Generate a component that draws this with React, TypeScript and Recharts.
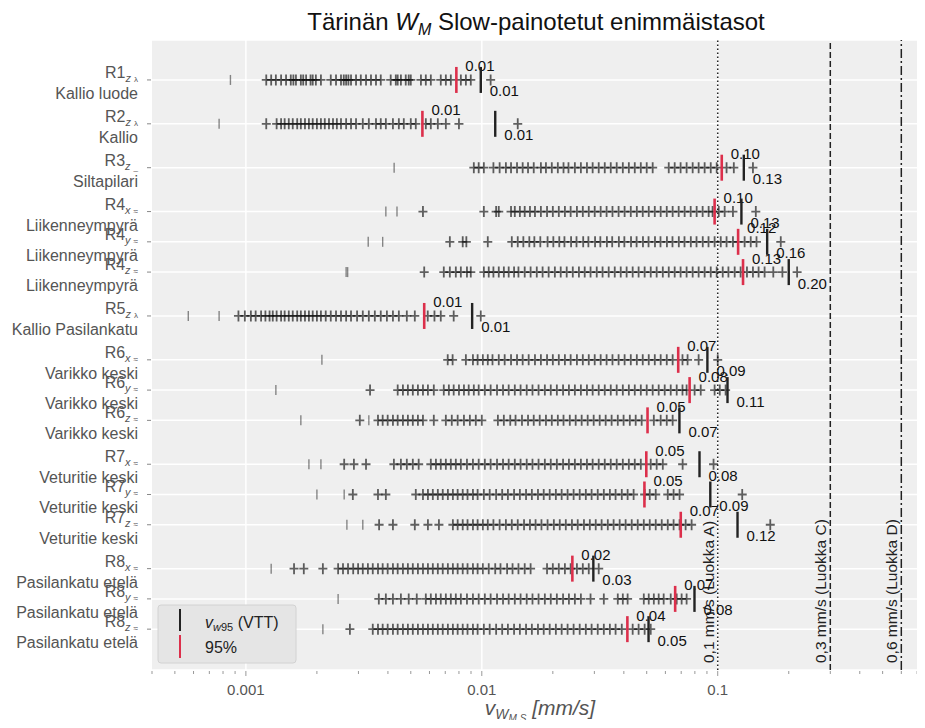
import React from "react";
import {
  ScatterChart,
  Scatter,
  XAxis,
  YAxis,
  CartesianGrid,
  ReferenceLine,
} from "recharts";

const FONT = '"Liberation Sans", Arial, Helvetica, sans-serif';
const RED = "#dc2f4b";

// rows, top to bottom
const rowIds = ["R1", "R2", "R3", "R4", "R4", "R4", "R5", "R6", "R6", "R6", "R7", "R7", "R7", "R8", "R8", "R8"];
const rowAxes = ["z", "z", "z", "x", "y", "z", "z", "x", "y", "z", "x", "y", "z", "x", "y", "z"];
const rowSigns = ["λ", "λ", "_", "≈", "≈", "≈", "λ", "≈", "≈", "≈", "≈", "≈", "≈", "≈", "≈", "≈"];
const rowPlaces = [
  "Kallio luode", "Kallio", "Siltapilari",
  "Liikenneympyrä", "Liikenneympyrä", "Liikenneympyrä",
  "Kallio Pasilankatu",
  "Varikko keski", "Varikko keski", "Varikko keski",
  "Veturitie keski", "Veturitie keski", "Veturitie keski",
  "Pasilankatu etelä", "Pasilankatu etelä", "Pasilankatu etelä",
];
const rowPos = [0, 1.45, 2.9, 4.35, 5.35, 6.35, 7.8, 9.25, 10.25, 11.25, 12.7, 13.7, 14.7, 16.15, 17.15, 18.15];

// 95 % percentile (red) and v_w95 VTT (black), mm/s
const p95 = [0.0078, 0.0056, 0.104, 0.097, 0.122, 0.128, 0.0057, 0.068, 0.076, 0.0504, 0.0498, 0.0489, 0.0697, 0.0242, 0.066, 0.0414];
const vw95 = [0.0099, 0.0114, 0.129, 0.126, 0.162, 0.2, 0.0091, 0.0904, 0.11, 0.0688, 0.0837, 0.093, 0.1213, 0.0297, 0.0797, 0.0509];

// lowest single readings (drawn as |)
const lowMarks = [
  [0.00086], [0.00077], [0.00425], [0.00392, 0.00437], [0.0033, 0.0038], [0.00266, 0.0027],
  [0.00057, 0.00077], [0.0021], [0.00134], [0.00171, 0.00332], [0.00185, 0.00208],
  [0.002, 0.00261], [0.00268, 0.00313], [0.00128], [0.00246], [0.00212],
];

// measured WM slow maxima per row
const r1z = [0.00122, 0.00128, 0.00134, 0.00141, 0.00148, 0.00155, 0.00159, 0.00163, 0.00171, 0.00175, 0.0018, 0.00188, 0.00192, 0.00198, 0.00208, 0.00229, 0.00241, 0.00253, 0.0026, 0.00266, 0.00272, 0.00279, 0.00293, 0.00307, 0.00323, 0.00339, 0.00356, 0.00373, 0.00411, 0.00432, 0.0044, 0.00454, 0.00476, 0.0049, 0.005, 0.00552, 0.00579, 0.00608, 0.0067, 0.00704, 0.00739, 0.00815, 0.00856, 0.00898, 0.0109];
const r2z = [0.00122, 0.00135, 0.00141, 0.00146, 0.00152, 0.00158, 0.00165, 0.00171, 0.00178, 0.00185, 0.00192, 0.002, 0.00208, 0.00216, 0.00225, 0.00234, 0.00243, 0.00253, 0.00266, 0.00279, 0.00293, 0.00313, 0.00332, 0.00356, 0.00373, 0.00392, 0.0042, 0.00445, 0.00467, 0.005, 0.00525, 0.00579, 0.00608, 0.00651, 0.00704, 0.008, 0.0142];
const r3z = [0.00925, 0.0097, 0.0102, 0.0112, 0.0119, 0.01265, 0.0133, 0.0141, 0.0149, 0.0157, 0.0166, 0.0178, 0.0187, 0.0198, 0.021, 0.0222, 0.0233, 0.0248, 0.0263, 0.0279, 0.0295, 0.0313, 0.0332, 0.0352, 0.0373, 0.0396, 0.042, 0.0445, 0.0472, 0.05, 0.053, 0.062, 0.0657, 0.0696, 0.0738, 0.0783, 0.083, 0.088, 0.0934, 0.099, 0.109, 0.117, 0.141];
const r4x = [0.00563, 0.0102, 0.0115, 0.0118, 0.0133, 0.0138, 0.0145, 0.0152, 0.016, 0.0168, 0.0178, 0.0189, 0.02, 0.0212, 0.0225, 0.0238, 0.0253, 0.0268, 0.0284, 0.0301, 0.0319, 0.0338, 0.0358, 0.038, 0.0403, 0.0428, 0.0454, 0.0481, 0.051, 0.0541, 0.0573, 0.0608, 0.0644, 0.0683, 0.0724, 0.0768, 0.0814, 0.0863, 0.0915, 0.0951, 0.101, 0.107, 0.116, 0.145];
const r4y = [0.00732, 0.0083, 0.0086, 0.0106, 0.0134, 0.0142, 0.015, 0.0159, 0.0167, 0.0177, 0.019, 0.0201, 0.0213, 0.0224, 0.0239, 0.0252, 0.0269, 0.0283, 0.0302, 0.0318, 0.0339, 0.0357, 0.0381, 0.0402, 0.0429, 0.0453, 0.0482, 0.0509, 0.0542, 0.0572, 0.0609, 0.0643, 0.0684, 0.0723, 0.0769, 0.0813, 0.0864, 0.0914, 0.097, 0.103, 0.109, 0.116, 0.122, 0.13, 0.138, 0.146, 0.185];
const r4z = [0.0057, 0.0069, 0.00732, 0.00776, 0.00815, 0.00865, 0.00898, 0.0102, 0.0107, 0.0112, 0.0118, 0.0124, 0.013, 0.0137, 0.0143, 0.0152, 0.0161, 0.0171, 0.0181, 0.0192, 0.0204, 0.0216, 0.0229, 0.0243, 0.0258, 0.0273, 0.0289, 0.0307, 0.0325, 0.0345, 0.0366, 0.0388, 0.0411, 0.0436, 0.0462, 0.049, 0.052, 0.0551, 0.0585, 0.062, 0.0657, 0.0696, 0.0738, 0.0783, 0.083, 0.088, 0.0934, 0.099, 0.105, 0.111, 0.118, 0.125, 0.133, 0.141, 0.149, 0.158, 0.172, 0.188, 0.217];
const r5z = [0.00093, 0.00099, 0.00105, 0.0011, 0.00116, 0.00121, 0.00126, 0.0013, 0.00135, 0.00141, 0.00146, 0.00152, 0.00158, 0.00165, 0.00171, 0.00178, 0.00185, 0.00192, 0.002, 0.00208, 0.00218, 0.00229, 0.00241, 0.00253, 0.00266, 0.00279, 0.00296, 0.00313, 0.00332, 0.00352, 0.00373, 0.00396, 0.0042, 0.00445, 0.00481, 0.0052, 0.0059, 0.0063, 0.0067, 0.0076, 0.0099];
const r6x = [0.00717, 0.00752, 0.00856, 0.00917, 0.0096, 0.0101, 0.0106, 0.0111, 0.0118, 0.0125, 0.0133, 0.0141, 0.0149, 0.0158, 0.0168, 0.0178, 0.0189, 0.02, 0.0212, 0.0225, 0.0238, 0.0253, 0.0268, 0.0284, 0.0301, 0.0319, 0.0338, 0.0358, 0.038, 0.0403, 0.0428, 0.0454, 0.0481, 0.051, 0.0541, 0.0573, 0.0608, 0.0644, 0.0709, 0.0745, 0.083, 0.1];
const r6y = [0.00336, 0.0044, 0.00463, 0.00486, 0.0051, 0.00536, 0.00563, 0.00591, 0.00626, 0.0069, 0.00725, 0.0076, 0.008, 0.0084, 0.0088, 0.00925, 0.0097, 0.0103, 0.0109, 0.0116, 0.0123, 0.013, 0.0138, 0.0146, 0.0155, 0.0164, 0.0174, 0.0185, 0.0196, 0.0208, 0.0221, 0.0234, 0.0248, 0.0263, 0.0279, 0.0295, 0.0313, 0.0332, 0.0352, 0.0373, 0.0396, 0.042, 0.0445, 0.0472, 0.05, 0.053, 0.0562, 0.0596, 0.0632, 0.067, 0.0709, 0.0738, 0.0798, 0.0847, 0.097, 0.102, 0.108];
const r6z = [0.00304, 0.00363, 0.0038, 0.00399, 0.0042, 0.0044, 0.00463, 0.00486, 0.0051, 0.00536, 0.00563, 0.00626, 0.00704, 0.00746, 0.0079, 0.0084, 0.0089, 0.00943, 0.01, 0.0117, 0.0124, 0.0132, 0.0139, 0.0148, 0.0157, 0.0166, 0.0176, 0.0187, 0.0198, 0.021, 0.0222, 0.0236, 0.025, 0.0265, 0.0281, 0.0298, 0.0316, 0.0335, 0.0355, 0.0377, 0.0399, 0.0424, 0.0449, 0.0476, 0.0536, 0.0573, 0.0608, 0.0644];
const r7x = [0.00261, 0.00287, 0.00323, 0.00424, 0.00454, 0.00481, 0.0051, 0.0054, 0.00608, 0.00639, 0.0067, 0.00704, 0.00739, 0.00776, 0.00815, 0.00865, 0.00917, 0.0097, 0.0103, 0.0109, 0.0116, 0.0123, 0.013, 0.0138, 0.0146, 0.0155, 0.0164, 0.0174, 0.0185, 0.0196, 0.0208, 0.0221, 0.0234, 0.0248, 0.0263, 0.0279, 0.0295, 0.0313, 0.0332, 0.0352, 0.0373, 0.0396, 0.042, 0.0445, 0.0472, 0.052, 0.0551, 0.0585, 0.071, 0.096];
const r7y = [0.00284, 0.00363, 0.00392, 0.00525, 0.00563, 0.00591, 0.0062, 0.00651, 0.00683, 0.00718, 0.00754, 0.0079, 0.0083, 0.0087, 0.00917, 0.0096, 0.0102, 0.0108, 0.0115, 0.0122, 0.0129, 0.0137, 0.0145, 0.0154, 0.0163, 0.0173, 0.0183, 0.0194, 0.0206, 0.0218, 0.0231, 0.0245, 0.026, 0.0276, 0.0292, 0.031, 0.0329, 0.0349, 0.0369, 0.0392, 0.0415, 0.044, 0.049, 0.0515, 0.0546, 0.0614, 0.065, 0.0689, 0.127];
const r7z = [0.00367, 0.0042, 0.0052, 0.00591, 0.00658, 0.00754, 0.0079, 0.0083, 0.0087, 0.00917, 0.0096, 0.0101, 0.0106, 0.0112, 0.0119, 0.01265, 0.0134, 0.0142, 0.0151, 0.016, 0.0169, 0.0179, 0.019, 0.0202, 0.0214, 0.0227, 0.0241, 0.0255, 0.0271, 0.0287, 0.0304, 0.0322, 0.0342, 0.0362, 0.0384, 0.0407, 0.0432, 0.0458, 0.0486, 0.0515, 0.0546, 0.0579, 0.0614, 0.065, 0.0689, 0.0731, 0.0775, 0.167];
const r8x = [0.0016, 0.00176, 0.00212, 0.00246, 0.00258, 0.00271, 0.00285, 0.00299, 0.00313, 0.00329, 0.00345, 0.00363, 0.0038, 0.00399, 0.0042, 0.0044, 0.00463, 0.00486, 0.0051, 0.00536, 0.00563, 0.00591, 0.0062, 0.00651, 0.00683, 0.00718, 0.00754, 0.0079, 0.0083, 0.0087, 0.00917, 0.0096, 0.0101, 0.0107, 0.0114, 0.012, 0.0128, 0.0135, 0.0143, 0.0152, 0.0161, 0.0189, 0.02, 0.0212, 0.0225, 0.0238, 0.0253, 0.0268, 0.0284, 0.0313];
const r8y = [0.00366, 0.00392, 0.0042, 0.00454, 0.0049, 0.0053, 0.00579, 0.00608, 0.00639, 0.0067, 0.00704, 0.00739, 0.00776, 0.00815, 0.00865, 0.00917, 0.0097, 0.0103, 0.0109, 0.0116, 0.0123, 0.013, 0.0138, 0.0146, 0.0155, 0.0164, 0.0174, 0.0185, 0.0196, 0.0208, 0.0221, 0.0234, 0.0248, 0.0263, 0.0289, 0.0329, 0.0377, 0.0396, 0.0415, 0.0486, 0.051, 0.0536, 0.0562, 0.059, 0.0632, 0.067, 0.0703, 0.0738];
const r8z = [0.00276, 0.00345, 0.00363, 0.0038, 0.00399, 0.0042, 0.0044, 0.00463, 0.00486, 0.0051, 0.00536, 0.00563, 0.00591, 0.0062, 0.00651, 0.00683, 0.00718, 0.00754, 0.0079, 0.0083, 0.0087, 0.00917, 0.0096, 0.0102, 0.0108, 0.0115, 0.0122, 0.0129, 0.0137, 0.0145, 0.0154, 0.0163, 0.0173, 0.0183, 0.0194, 0.0206, 0.0218, 0.0231, 0.0245, 0.026, 0.0276, 0.0292, 0.031, 0.0329, 0.0349, 0.0369, 0.0392, 0.0436, 0.0462, 0.049, 0.052];

const rowSamples = [r1z, r2z, r3z, r4x, r4y, r4z, r5z, r6x, r6y, r6z, r7x, r7y, r7z, r8x, r8y, r8z];

const majorTicks = [0.001, 0.01, 0.1];
const minorTicks = [
  0.0004, 0.0005, 0.0006, 0.0007, 0.0008, 0.0009,
  0.002, 0.003, 0.004, 0.005, 0.006, 0.007, 0.008, 0.009,
  0.02, 0.03, 0.04, 0.05, 0.06, 0.07, 0.08, 0.09,
  0.2, 0.3, 0.4, 0.5, 0.6, 0.7,
];
const limits = [
  { v: 0.1, text: "0,1 mm/s (Luokka A)", dash: "1.5 2.5" },
  { v: 0.3, text: "0,3 mm/s (Luokka C)", dash: "6 3" },
  { v: 0.6, text: "0,6 mm/s (Luokka D)", dash: "9 3 2 3" },
];

const plusData = rowSamples.flatMap((vals, i) => vals.map((v) => ({ x: v, y: rowPos[i] })));
const lowData = lowMarks.flatMap((vals, i) => vals.map((v) => ({ x: v, y: rowPos[i] })));
const p95Data = p95.map((v, i) => ({ x: v, y: rowPos[i] }));
const vwData = vw95.map((v, i) => ({ x: v, y: rowPos[i] }));
const allTicks = [...majorTicks, ...minorTicks].sort((a, b) => a - b);

function PlusMark({ cx, cy }: any) {
  return (
    <path
      d={`M${cx - 4.5},${cy}H${cx + 4.5}M${cx},${cy - 5.5}V${cy + 5.5}`}
      stroke="#000"
      strokeOpacity={0.62}
      strokeWidth={1.8}
      fill="none"
    />
  );
}

function LowMark({ cx, cy }: any) {
  return (
    <line x1={cx} x2={cx} y1={cy - 5} y2={cy + 5} stroke="#000" strokeOpacity={0.45} strokeWidth={1.4} />
  );
}

function P95Mark({ cx, cy, payload }: any) {
  return (
    <g>
      <line x1={cx} x2={cx} y1={cy - 13} y2={cy + 13} stroke={RED} strokeWidth={2.6} />
      <text x={cx + 9} y={cy - 8.5} fontSize={15} fill="#111" fontFamily={FONT}>
        {payload.x.toFixed(2)}
      </text>
    </g>
  );
}

function VwMark({ cx, cy, payload }: any) {
  return (
    <g>
      <line x1={cx} x2={cx} y1={cy - 13} y2={cy + 13} stroke="#222" strokeWidth={2.4} />
      <text x={cx + 9} y={cy + 16.5} fontSize={15} fill="#111" fontFamily={FONT}>
        {payload.x.toFixed(2)}
      </text>
    </g>
  );
}

function XTick({ x, y, payload }: any) {
  const major = majorTicks.includes(payload.value);
  return (
    <g>
      <line x1={x} x2={x} y1={y + 1} y2={y + (major ? 6 : 4)} stroke="#999" />
      {major && (
        <text x={x} y={y + 24.5} textAnchor="middle" fontSize={15} fill="#555" fontFamily={FONT}>
          {String(payload.value)}
        </text>
      )}
    </g>
  );
}

function RowTick({ x, y, payload }: any) {
  const i = rowPos.indexOf(payload.value);
  if (i < 0) return null;
  return (
    <g>
      <line x1={x - 5} x2={x - 1} y1={y} y2={y} stroke="#888" />
      <text x={x - 14} y={y - 2} textAnchor="end" fontSize={16} fill="#555" fontFamily={FONT}>
        {rowIds[i]}
        <tspan fontSize={11} fontStyle="italic" dy={4}>
          {rowAxes[i]}
        </tspan>
        <tspan fontSize={8} dx={3}>
          {rowSigns[i]}
        </tspan>
      </text>
      <text x={x - 14} y={y + 19} textAnchor="end" fontSize={16} fill="#555" fontFamily={FONT}>
        {rowPlaces[i]}
      </text>
    </g>
  );
}

function LimitLabel({ viewBox, text }: any) {
  if (!viewBox) return null;
  const x = viewBox.x - 4;
  const y = viewBox.y + viewBox.height - 7;
  return (
    <text x={x} y={y} transform={`rotate(-90 ${x} ${y})`} fontSize={15.5} fill="#222" fontFamily={FONT}>
      {text}
    </text>
  );
}

export default function App() {
  return (
    <div style={{ position: "relative", width: 925, height: 728, margin: -8, background: "#fff" }}>
      <ScatterChart width={925} height={728} margin={{ top: 40, right: 5, bottom: 0, left: 0 }}>
        <CartesianGrid fill="#efefef" stroke="#fff" strokeWidth={1.5} verticalValues={majorTicks} />
        <XAxis
          type="number"
          dataKey="x"
          scale="log"
          domain={[0.0004, 0.72]}
          allowDataOverflow
          ticks={allTicks}
          interval={0}
          height={58}
          axisLine={false}
          tickLine={false}
          tickSize={0}
          tickMargin={0}
          tick={(p: any) => <XTick {...p} />}
        />
        <YAxis
          type="number"
          dataKey="y"
          domain={[-1.32, 19.5]}
          reversed
          ticks={rowPos}
          interval={0}
          width={152}
          axisLine={false}
          tickLine={false}
          tickSize={0}
          tickMargin={0}
          tick={(p: any) => <RowTick {...p} />}
        />
        <Scatter data={plusData} shape={(p: any) => <PlusMark {...p} />} isAnimationActive={false} />
        <Scatter data={lowData} shape={(p: any) => <LowMark {...p} />} isAnimationActive={false} />
        {limits.map((l) => (
          <ReferenceLine
            key={l.v}
            x={l.v}
            stroke="#222"
            strokeWidth={1.5}
            strokeDasharray={l.dash}
            label={<LimitLabel text={l.text} />}
          />
        ))}
        <Scatter data={p95Data} shape={(p: any) => <P95Mark {...p} />} isAnimationActive={false} />
        <Scatter data={vwData} shape={(p: any) => <VwMark {...p} />} isAnimationActive={false} />
      </ScatterChart>
      <svg
        width={925}
        height={728}
        style={{ position: "absolute", left: 0, top: 0, pointerEvents: "none" }}
        fontFamily={FONT}
      >
        <text x={536} y={30} textAnchor="middle" fontSize={24} fill="#111">
          Tärinän <tspan fontStyle="italic">W</tspan>
          <tspan fontStyle="italic" fontSize={16} dy={5}>M</tspan>
          <tspan dy={-5}> Slow-painotetut enimmäistasot</tspan>
        </text>
        <text x={540} y={715} textAnchor="middle" fontSize={21} fill="#555" fontStyle="italic">
          v<tspan fontSize={14} dy={4}>W</tspan>
          <tspan fontSize={10} dy={3}>M,S</tspan>
          <tspan dy={-7}> [mm/s]</tspan>
        </text>
        <rect x={158} y={605} width={138} height={58} rx={3} fill="#e5e5e5" stroke="#d2d2d2" />
        <line x1={180} x2={180} y1={609} y2={631} stroke="#222" strokeWidth={2} />
        <line x1={180} x2={180} y1={635} y2={658} stroke={RED} strokeWidth={2} />
        <text x={205} y={628} fontSize={16} fill="#222">
          <tspan fontStyle="italic">v</tspan>
          <tspan fontSize={11} dy={3}>
            <tspan fontStyle="italic">w</tspan>95
          </tspan>
          <tspan dy={-3}> (VTT)</tspan>
        </text>
        <text x={205} y={653} fontSize={16} fill="#222">
          95%
        </text>
      </svg>
    </div>
  );
}
